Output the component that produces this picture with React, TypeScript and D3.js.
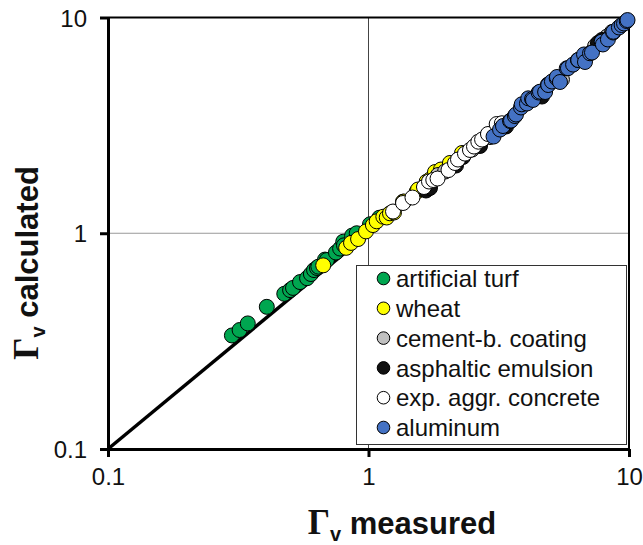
import React, { useRef, useEffect } from 'react';
import * as d3 from 'd3';

// Γv measured / Γv calculated
const turfX = [0.299, 0.32, 0.344, 0.407, 0.475, 0.5, 0.513, 0.546, 0.581, 0.601, 0.618, 0.634, 0.642, 0.681, 0.692, 0.75, 0.778, 0.8, 0.805, 0.865, 0.901, 1.013, 1.1];
const turfY = [0.336, 0.356, 0.382, 0.456, 0.524, 0.545, 0.558, 0.594, 0.619, 0.647, 0.675, 0.69, 0.7, 0.755, 0.751, 0.814, 0.849, 0.914, 0.879, 0.975, 1.0, 1.1, 1.18];

const wheatX = [0.67, 0.821, 0.857, 0.912, 0.978, 1.04, 1.075, 1.14, 1.175, 1.209, 1.253, 1.356, 1.368, 1.531, 1.549, 1.672, 1.722, 1.8, 1.898, 2.054, 2.285];
const wheatY = [0.71, 0.856, 0.902, 0.94, 1.02, 1.091, 1.136, 1.193, 1.183, 1.237, 1.248, 1.4, 1.403, 1.559, 1.595, 1.734, 1.774, 1.922, 1.974, 2.117, 2.355];

const cementX = [1.849, 1.967, 2.497, 2.927, 3.283, 5.53, 7.41, 8.24, 8.61];
const cementY = [1.862, 1.932, 2.443, 2.793, 3.124, 5.16, 7.38, 8.16, 8.57];

const asphaltX = [1.662, 1.722, 2.167, 2.305, 2.68, 3.373, 4.634, 7.6, 7.87];
const asphaltY = [1.578, 1.621, 2.06, 2.256, 2.538, 3.124, 4.302, 7.62, 7.87];

const concreteX = [1.242, 1.357, 1.475, 1.633, 1.707, 1.773, 1.841, 2.028, 2.148, 2.206, 2.346, 2.452, 2.541, 2.64, 2.729, 2.875, 3.105, 3.251, 8.09];
const concreteY = [1.261, 1.381, 1.464, 1.638, 1.737, 1.765, 1.793, 1.963, 2.117, 2.196, 2.34, 2.432, 2.523, 2.657, 2.718, 2.884, 3.208, 3.234, 7.73];

const aluX = [3.02, 3.198, 3.283, 3.494, 3.524, 3.647, 3.683, 3.849, 3.874, 4.058, 4.105, 4.244, 4.28, 4.498, 4.552, 4.764, 4.887, 4.898, 5.06, 5.278, 5.29, 5.433, 5.766, 5.83, 6.1, 6.37, 6.386, 6.72, 6.777, 7.085, 7.21, 7.855, 7.94, 8.3, 8.69, 8.71, 9.15, 9.37, 9.57, 9.8, 9.87];
const aluY = [2.806, 3.025, 3.141, 3.313, 3.329, 3.493, 3.551, 3.828, 3.96, 3.994, 4.221, 4.191, 4.148, 4.489, 4.53, 4.515, 4.891, 4.864, 5.05, 5.226, 5.3, 5.024, 5.814, 5.82, 6.05, 6.35, 6.353, 6.74, 6.22, 6.824, 6.88, 7.724, 7.5, 7.91, 8.52, 8.59, 8.99, 9.23, 9.38, 9.63, 9.73];

const seriesNames = ['artificial turf', 'wheat', 'cement-b. coating', 'asphaltic emulsion', 'exp. aggr. concrete', 'aluminum'];
const seriesColors = ['#00a650', '#ffff00', '#c0c0c0', '#111111', '#ffffff', '#4472c4'];
const seriesData = [
  [turfX, turfY],
  [wheatX, wheatY],
  [cementX, cementY],
  [asphaltX, asphaltY],
  [concreteX, concreteY],
  [aluX, aluY],
];
const drawOrder = [0, 1, 2, 3, 4, 5];

const tickValues = [0.1, 1, 10];
const lineEnds = [0.1, 10];

const App = () => {
  const ref = useRef<SVGSVGElement>(null);

  useEffect(() => {
    document.body.style.margin = '0';
    const svg = d3.select(ref.current);
    svg.selectAll('*').remove();

    const left = 108, right = 629, top = 17.5, bottom = 449;
    const x = d3.scaleLog().domain([0.1, 10]).range([left, right]);
    const y = d3.scaleLog().domain([0.1, 10]).range([bottom, top]);

    // grid at 1
    svg.append('line')
      .attr('x1', x(1)).attr('x2', x(1)).attr('y1', top).attr('y2', bottom)
      .attr('stroke', '#444').attr('stroke-width', 1);
    svg.append('line')
      .attr('x1', left).attr('x2', right).attr('y1', y(1)).attr('y2', y(1))
      .attr('stroke', '#999').attr('stroke-width', 1);

    // top and right frame
    svg.append('path')
      .attr('d', `M${left},${top}H${right}V${bottom}`)
      .attr('fill', 'none').attr('stroke', '#000').attr('stroke-width', 2);

    // 1:1 line
    svg.append('path')
      .datum(lineEnds)
      .attr('d', d3.line<number>().x(d => x(d)).y(d => y(d)))
      .attr('stroke', '#000').attr('stroke-width', 3.5).attr('fill', 'none');

    // points
    drawOrder.forEach(i => {
      const [xs, ys] = seriesData[i];
      svg.append('g')
        .selectAll('circle')
        .data(xs.map((v, k) => [v, ys[k]]))
        .enter()
        .append('circle')
        .attr('cx', d => x(d[0]))
        .attr('cy', d => y(d[1]))
        .attr('r', 7.5)
        .attr('fill', seriesColors[i])
        .attr('stroke', '#000')
        .attr('stroke-width', 1);
    });

    // axes
    const fmt = (d: any) => (d < 1 ? '0.1' : String(d));
    const yAxis = svg.append('g')
      .attr('transform', `translate(${left},0)`)
      .call(d3.axisLeft(y).tickValues(tickValues).tickFormat(fmt).tickSize(8).tickSizeOuter(0));
    yAxis.selectAll('text').attr('x', -21).attr('dy', '0.36em');

    const xAxis = svg.append('g')
      .attr('transform', `translate(0,${bottom})`)
      .call(d3.axisBottom(x).tickValues(tickValues).tickFormat(fmt).tickSize(8).tickSizeOuter(0));
    xAxis.selectAll('text').attr('y', 19);

    svg.selectAll('.domain').attr('stroke', '#000').attr('stroke-width', 3);
    svg.selectAll('.tick line').attr('stroke', '#000').attr('stroke-width', 3);
    svg.selectAll('.tick text')
      .attr('font-family', 'Liberation Sans, Arial, sans-serif')
      .attr('font-size', 24)
      .attr('fill', '#111');

    // legend
    const lg = svg.append('g');
    lg.append('rect')
      .attr('x', 356.5).attr('y', 265.5).attr('width', 270).attr('height', 179)
      .attr('fill', '#fff').attr('stroke', '#333').attr('stroke-width', 1);
    seriesNames.forEach((name, i) => {
      const cy = 278.5 + i * 29.8;
      lg.append('circle')
        .attr('cx', 383.5).attr('cy', cy).attr('r', 6.3)
        .attr('fill', seriesColors[i]).attr('stroke', '#000').attr('stroke-width', 1);
      lg.append('text')
        .attr('x', 396).attr('y', cy).attr('dy', '0.36em')
        .attr('font-family', 'Liberation Sans, Arial, sans-serif')
        .attr('font-size', 24)
        .attr('fill', '#111')
        .text(name);
    });

    // axis titles
    const title = (g: any, label: string) => {
      const t = g.append('text')
        .attr('font-family', 'Liberation Sans, Arial, sans-serif')
        .attr('font-weight', 'bold')
        .attr('font-size', 31)
        .attr('fill', '#111')
        .attr('text-anchor', 'middle');
      t.append('tspan').attr('font-family', 'Liberation Serif, Times New Roman, serif').attr('font-size', 35).text('Γ');
      t.append('tspan').attr('font-size', 20).attr('dy', 7).text('v');
      t.append('tspan').attr('dy', -7).text(' ' + label);
      return t;
    };
    title(svg.append('g').attr('transform', 'translate(402,534)'), 'measured');
    title(svg.append('g').attr('transform', 'translate(38,263) rotate(-90)'), 'calculated');
  }, []);

  return <svg ref={ref} width={643} height={545} style={{ display: 'block' }}></svg>;
};

export default App;
